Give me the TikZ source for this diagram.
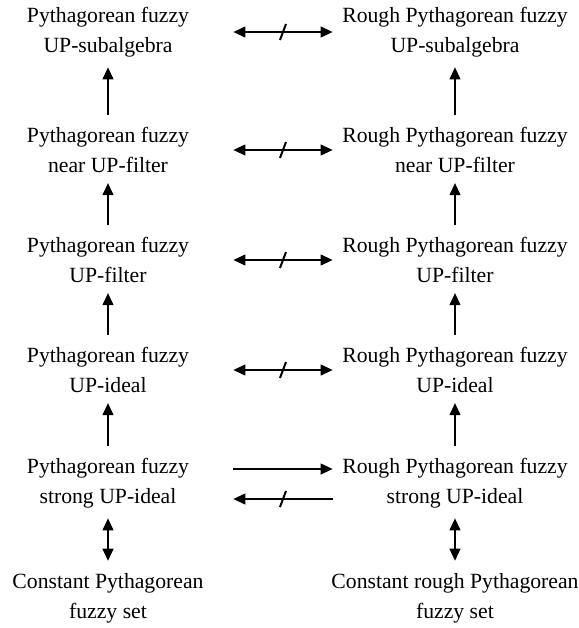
\documentclass[tikz,border=0pt]{standalone}
\usepackage{fontspec}
\setmainfont{Liberation Serif}
\usetikzlibrary{arrows.meta}
\begin{document}
\begin{tikzpicture}[x=0.5pt,y=-0.5pt,
    every node/.style={align=center,inner sep=2pt,font=\fontsize{10.85}{15}\selectfont},
    lft/.style={minimum width=125pt},
    rgt/.style={minimum width=122pt},
    arr/.style={line width=0.6pt,-{Triangle[length=6pt,width=5.5pt]}},
    biarr/.style={line width=0.6pt,{Triangle[length=6pt,width=5.5pt]}-{Triangle[length=6pt,width=5.5pt]}},
    slash/.style={line width=1pt}]
    \useasboundingbox (0,0) rectangle (579,628);

    % left column
    \node[lft] (L1) at (108,32) {Pythagorean fuzzy\\UP-subalgebra};
    \node[lft] (L2) at (108,150) {Pythagorean fuzzy\\near UP-filter};
    \node[lft] (L3) at (108,260) {Pythagorean fuzzy\\UP-filter};
    \node[lft] (L4) at (108,370) {Pythagorean fuzzy\\UP-ideal};
    \node[lft] (L5) at (108,483) {Pythagorean fuzzy\\strong UP-ideal};
    \node[lft] (L6) at (108,598) {Constant Pythagorean\\fuzzy set};

    % right column
    \node[rgt] (R1) at (455,32) {Rough Pythagorean fuzzy\\UP-subalgebra};
    \node[rgt] (R2) at (455,150) {Rough Pythagorean fuzzy\\near UP-filter};
    \node[rgt] (R3) at (455,260) {Rough Pythagorean fuzzy\\UP-filter};
    \node[rgt] (R4) at (455,370) {Rough Pythagorean fuzzy\\UP-ideal};
    \node[rgt] (R5) at (455,483) {Rough Pythagorean fuzzy\\strong UP-ideal};
    \node[rgt] (R6) at (455,598) {Constant rough Pythagorean\\fuzzy set};

    % vertical arrows
    \foreach \i/\j in {2/1,3/2,4/3,5/4}{
        \draw[arr,shorten <=4pt,shorten >=3pt] (L\i) -- (L\j);
        \draw[arr,shorten <=4pt,shorten >=3pt] (R\i) -- (R\j);
    }
    \draw[biarr,shorten <=3pt,shorten >=4pt] (L5) -- (L6);
    \draw[biarr,shorten <=3pt,shorten >=4pt] (R5) -- (R6);

    % horizontal arrows, crossed ones get a slash
    \foreach \i in {1,2,3,4}{
        \draw[biarr] (L\i) -- (R\i) coordinate[midway] (m\i);
        \draw[slash] ([xshift=-1.5pt,yshift=-4pt]m\i) -- ([xshift=1.5pt,yshift=4pt]m\i);
    }
    \draw[arr] ([yshift=7pt]L5.east) -- ([yshift=7pt]R5.west);
    \draw[arr] ([yshift=-8pt]R5.west) -- ([yshift=-8pt]L5.east) coordinate[midway] (m5);
    \draw[slash] ([xshift=-1.5pt,yshift=-4pt]m5) -- ([xshift=1.5pt,yshift=4pt]m5);
\end{tikzpicture}
\end{document}
